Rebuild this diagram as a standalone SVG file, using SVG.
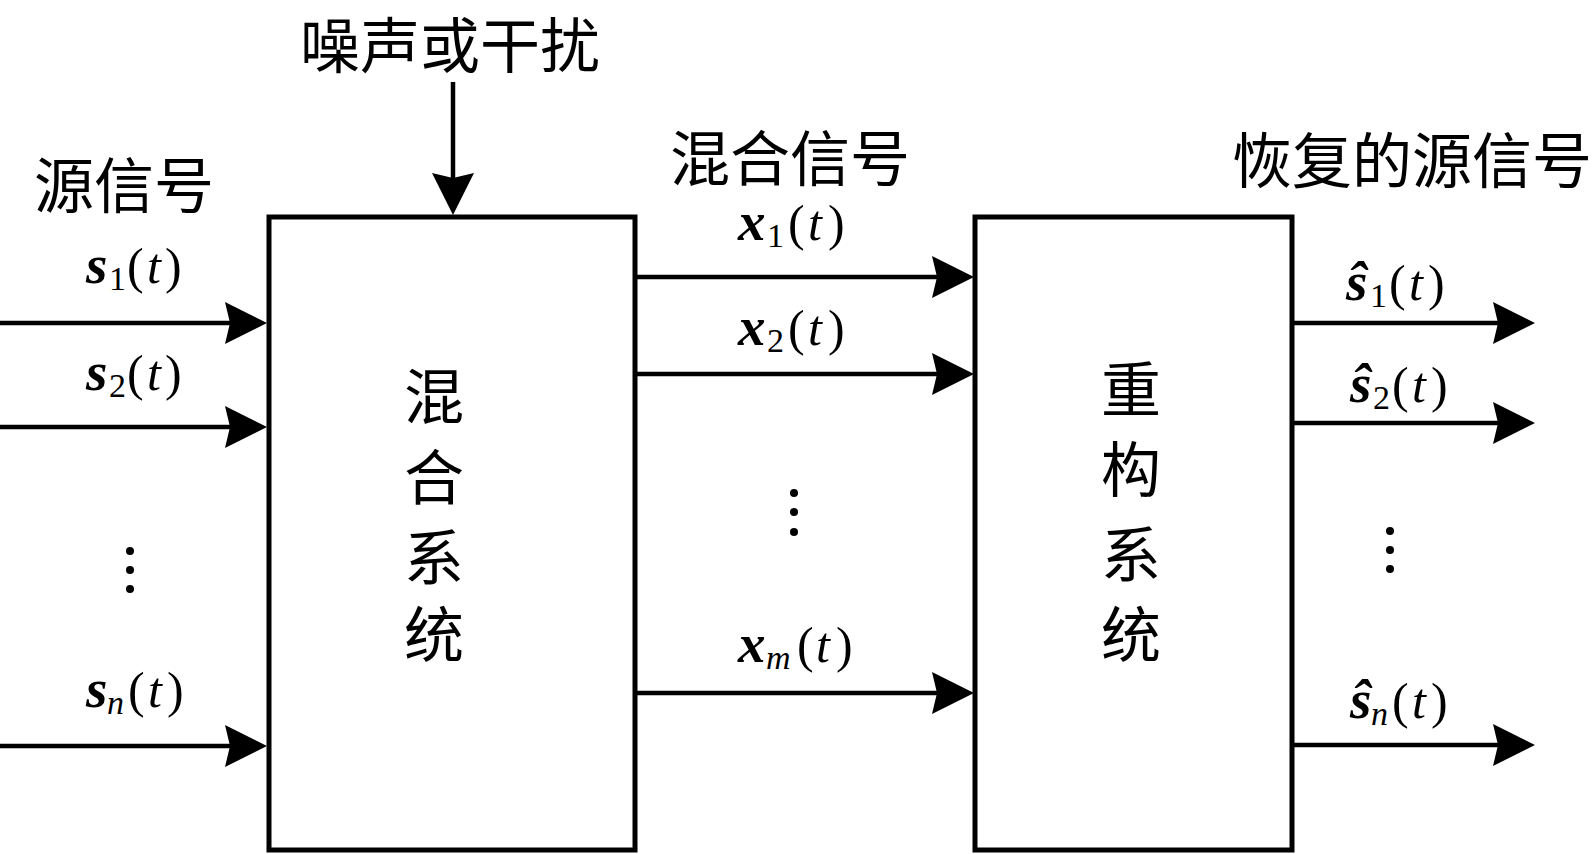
<svg xmlns="http://www.w3.org/2000/svg" width="1593" height="854" viewBox="0 0 1593 854">
<style>
.box{fill:#fff;stroke:#000;stroke-width:5}
.ln{fill:none;stroke:#000;stroke-width:4.5;marker-end:url(#ah)}
.cjk{font-family:"Noto Sans CJK SC","Noto Sans CJK TC",sans-serif;font-size:60px;fill:#000;text-anchor:middle}
.m{font-family:"Liberation Serif","Times New Roman",serif;font-size:50px;fill:#000}
.b{font-weight:bold;font-style:italic;font-size:55px}
.i{font-style:italic}
.sub{font-size:34px}
.dot{fill:#000}
</style>
<defs>
<marker id="ah" markerUnits="userSpaceOnUse" viewBox="0 0 42 42" markerWidth="42" markerHeight="42" refX="34" refY="21" orient="auto">
<path d="M0,0 L42,21 L0,42 L5,21 Z" fill="#000"/>
</marker>
</defs>
<rect width="1593" height="854" fill="#fff"/>

<g id="mixing-system">
<rect class="box" x="269" y="217" width="366" height="633"/>
<text class="cjk" x="434" y="419">混</text>
<text class="cjk" x="434" y="500">合</text>
<text class="cjk" x="434" y="580">系</text>
<text class="cjk" x="434" y="657">统</text>
</g>

<g id="reconstruction-system">
<rect class="box" x="975" y="217" width="317" height="633"/>
<text class="cjk" x="1131" y="412">重</text>
<text class="cjk" x="1131" y="492">构</text>
<text class="cjk" x="1131" y="577">系</text>
<text class="cjk" x="1131" y="657">统</text>
</g>

<g id="connectors">
<line class="ln" x1="0" y1="323" x2="259" y2="323"/>
<line class="ln" x1="0" y1="427" x2="259" y2="427"/>
<line class="ln" x1="0" y1="746" x2="259" y2="746"/>
<line class="ln" x1="453" y1="82" x2="453" y2="207"/>
<line class="ln" x1="635" y1="277" x2="966" y2="277"/>
<line class="ln" x1="635" y1="374" x2="966" y2="374"/>
<line class="ln" x1="635" y1="693" x2="966" y2="693"/>
<line class="ln" x1="1292" y1="323" x2="1527" y2="323"/>
<line class="ln" x1="1292" y1="423" x2="1527" y2="423"/>
<line class="ln" x1="1292" y1="745" x2="1527" y2="745"/>
</g>

<g id="noise-label">
<text class="cjk" x="450" y="68">噪声或干扰</text>
</g>

<g id="source-signals">
<text class="cjk" x="124" y="208">源信号</text>
<text class="m"><tspan class="b" x="86" y="283">s</tspan><tspan class="sub" x="109" y="290">1</tspan><tspan x="127" y="283">(</tspan><tspan class="i" x="147">t</tspan><tspan x="165">)</tspan></text>
<text class="m"><tspan class="b" x="86" y="390">s</tspan><tspan class="sub" x="109" y="397">2</tspan><tspan x="127" y="390">(</tspan><tspan class="i" x="147">t</tspan><tspan x="165">)</tspan></text>
<text class="m"><tspan class="b" x="86" y="707">s</tspan><tspan class="sub i" x="107" y="714">n</tspan><tspan x="128" y="707">(</tspan><tspan class="i" x="148">t</tspan><tspan x="167">)</tspan></text>
<circle class="dot" cx="130" cy="551" r="4"/>
<circle class="dot" cx="130" cy="570" r="4"/>
<circle class="dot" cx="130" cy="589" r="4"/>
</g>

<g id="mixed-signals">
<text class="cjk" x="790" y="181">混合信号</text>
<text class="m"><tspan class="b" x="738" y="240">x</tspan><tspan class="sub" x="767" y="247">1</tspan><tspan x="788" y="240">(</tspan><tspan class="i" x="808">t</tspan><tspan x="828">)</tspan></text>
<text class="m"><tspan class="b" x="738" y="345">x</tspan><tspan class="sub" x="767" y="352">2</tspan><tspan x="788" y="345">(</tspan><tspan class="i" x="808">t</tspan><tspan x="828">)</tspan></text>
<text class="m"><tspan class="b" x="738" y="662">x</tspan><tspan class="sub i" x="766" y="669">m</tspan><tspan x="797" y="662">(</tspan><tspan class="i" x="816">t</tspan><tspan x="836">)</tspan></text>
<circle class="dot" cx="794" cy="493" r="4"/>
<circle class="dot" cx="794" cy="512" r="4"/>
<circle class="dot" cx="794" cy="532" r="4"/>
</g>

<g id="recovered-signals">
<text class="cjk" x="1412" y="183">恢复的源信号</text>
<text class="m"><tspan class="b" x="1346" y="300">ŝ</tspan><tspan class="sub" x="1370" y="307">1</tspan><tspan x="1389" y="300">(</tspan><tspan class="i" x="1409">t</tspan><tspan x="1428">)</tspan></text>
<text class="m"><tspan class="b" x="1350" y="402">ŝ</tspan><tspan class="sub" x="1373" y="409">2</tspan><tspan x="1392" y="402">(</tspan><tspan class="i" x="1412">t</tspan><tspan x="1431">)</tspan></text>
<text class="m"><tspan class="b" x="1350" y="718">ŝ</tspan><tspan class="sub i" x="1371" y="725">n</tspan><tspan x="1392" y="718">(</tspan><tspan class="i" x="1412">t</tspan><tspan x="1431">)</tspan></text>
<circle class="dot" cx="1390" cy="531" r="4"/>
<circle class="dot" cx="1390" cy="550" r="4"/>
<circle class="dot" cx="1390" cy="569" r="4"/>
</g>
</svg>
